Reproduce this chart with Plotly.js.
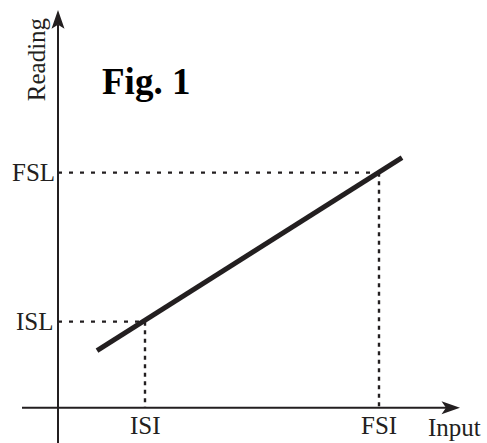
<!DOCTYPE html>
<html>
<head>
<meta charset="utf-8">
<script src="https://cdn.plot.ly/plotly-3.0.1.min.js"></script>
<style>html,body{margin:0;padding:0;background:#fff;}#chart{width:487px;height:443px;}</style>
</head>
<body>
<div id="chart"></div>
<script>
// Values (input units along x, reading units along y, origin at the axes crossing)
const lineInput = [39, 344];
const lineReading = [57, 250];
const ISI = 87, FSI = 321;
const ISL = 86, FSL = 235;
const tickLabelsX = ['ISI', 'FSI'];
const tickLabelsY = ['ISL', 'FSL'];
const axisTitleX = 'Input';
const axisTitleY = 'Reading';
const figTitle = 'Fig. 1';

const ink = '#231f20';
const serif = 'Liberation Serif, Times New Roman, serif';

const traces = [
  // axes lines
  {x: [0, 0], y: [-35.3, 383], mode: 'lines', line: {color: ink, width: 2}, hoverinfo: 'skip'},
  {x: [-36, 388], y: [0, 0], mode: 'lines', line: {color: ink, width: 2}, hoverinfo: 'skip'},
  // dotted guides from y-axis to the line
  {x: [0, ISI], y: [ISL, ISL], mode: 'lines', line: {color: ink, width: 2.2, dash: '4px,7px'}, hoverinfo: 'skip'},
  {x: [0, FSI], y: [FSL, FSL], mode: 'lines', line: {color: ink, width: 2.2, dash: '4px,7px'}, hoverinfo: 'skip'},
  // dotted guides from the line to x-axis
  {x: [ISI, ISI], y: [ISL, 0], mode: 'lines', line: {color: ink, width: 2.4, dash: '4px,4.5px'}, hoverinfo: 'skip'},
  {x: [FSI, FSI], y: [FSL, 0], mode: 'lines', line: {color: ink, width: 2.4, dash: '4px,4.5px'}, hoverinfo: 'skip'},
  // main characteristic line
  {x: lineInput, y: lineReading, mode: 'lines', line: {color: ink, width: 5}, hoverinfo: 'skip'}
];

const txt = (x, y, text, opts) => Object.assign({
  x: x, y: y, xref: 'x', yref: 'y', text: text, showarrow: false,
  font: {family: serif, size: 25, color: ink}
}, opts || {});

const annotations = [
  // tick labels
  txt(ISI, 0, tickLabelsX[0], {yanchor: 'top', yshift: -2}),
  txt(FSI, 0, tickLabelsX[1], {yanchor: 'top', yshift: -2}),
  txt(0, ISL, tickLabelsY[0], {xanchor: 'right', xshift: -2}),
  txt(0, FSL, tickLabelsY[1], {xanchor: 'right', xshift: -1}),
  // axis titles
  txt(425, 0, axisTitleX, {yanchor: 'top', xanchor: 'right', yshift: -4}),
  txt(0, 348, axisTitleY, {textangle: -90, xanchor: 'right', xshift: -6}),
  // figure title
  txt(88, 326, '<b>' + figTitle + '</b>', {font: {family: serif, size: 37, color: '#000'}})
];

const shapes = [
  // arrowheads
  {type: 'path', xref: 'x', yref: 'y', path: 'M0,397.7 L6.5,379 L0,383 L-6.5,379 Z',
   fillcolor: ink, line: {width: 0}},
  {type: 'path', xref: 'x', yref: 'y', path: 'M402,0 L383.5,6.5 L388,0 L383.5,-6.5 Z',
   fillcolor: ink, line: {width: 0}}
];

const layout = {
  width: 487, height: 443,
  margin: {l: 0, r: 0, t: 0, b: 0},
  paper_bgcolor: '#fff', plot_bgcolor: '#fff',
  showlegend: false,
  xaxis: {range: [-58, 429], visible: false, fixedrange: true},
  yaxis: {range: [-35.3, 407.7], visible: false, fixedrange: true},
  annotations: annotations,
  shapes: shapes
};

Plotly.newPlot('chart', traces, layout, {displayModeBar: false, staticPlot: true});
</script>
</body>
</html>
